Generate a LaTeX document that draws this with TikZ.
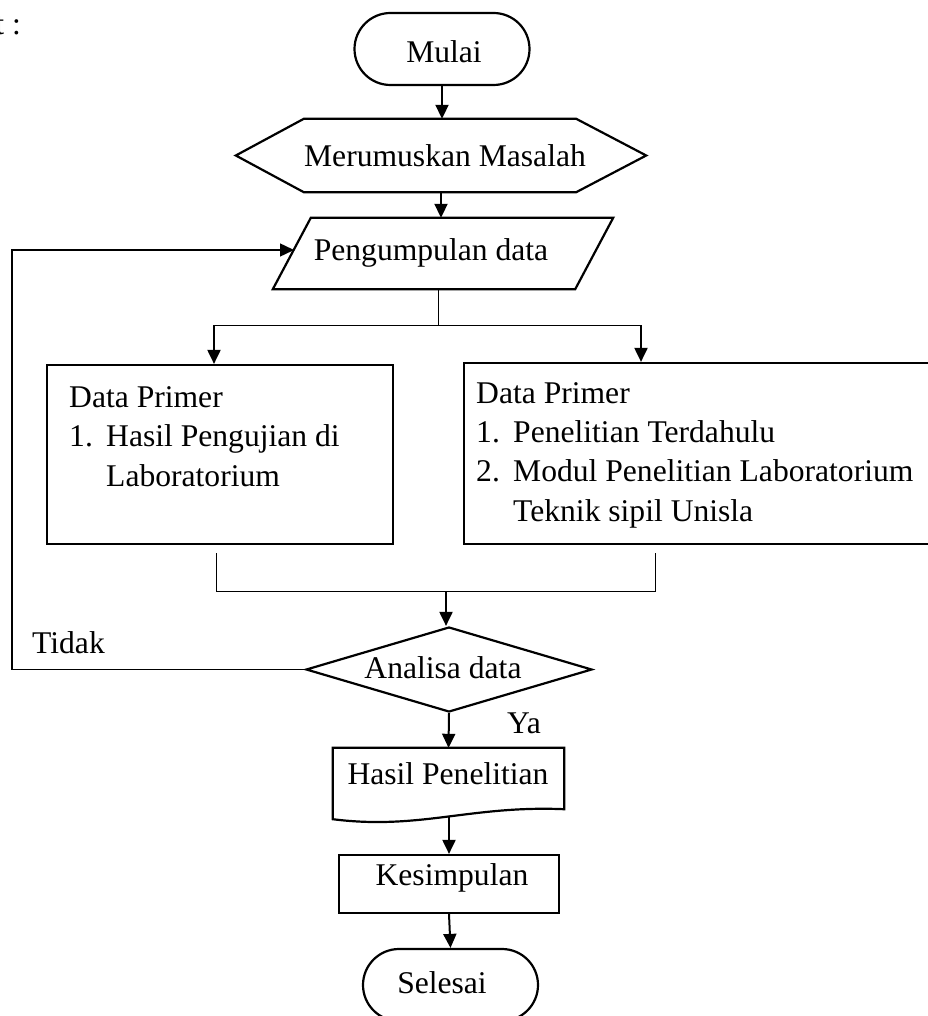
\documentclass[tikz,border=0pt]{standalone}
\usepackage{fontspec}
\setmainfont{Liberation Serif}
\usetikzlibrary{shapes.misc,shapes.geometric,arrows.meta,calc}
\begin{document}
\begin{tikzpicture}[x=1pt,y=-1pt,
  shapeline/.style={draw=black, line width=2.2pt, line join=miter},
  boxnode/.style={shapeline, rectangle, inner sep=0pt},
  ghost/.style={rectangle, inner sep=0pt, draw=none},
  term/.style={shapeline, rounded rectangle, inner sep=0pt, minimum width=175pt, minimum height=72pt},
  txt/.style={inner sep=0pt, anchor=base, font=\fontsize{31.6pt}{38pt}\selectfont},
  txtl/.style={txt, anchor=base west},
  arr/.style={line width=2pt, -{Triangle[length=14pt,width=13pt]}},
  thinline/.style={line width=1pt},
  loopline/.style={line width=1.4pt, -{Triangle[length=14pt,width=13pt]}}
]
\useasboundingbox (0,0) rectangle (927,1016);

% top-left fragment
\node[txt, anchor=base east] (tcolon) at (21,35) {t :};

% Mulai
\node[term] (mulai) at (442,49) {};
\node[txt] (tmulai) at (444,63) {Mulai};

% Merumuskan Masalah (hexagon)
\node[ghost, minimum width=410pt, minimum height=73pt] (rumus) at (441,155.5) {};
\draw[shapeline] (rumus.west) -- ([xshift=68pt]rumus.north west) -- ([xshift=-70pt]rumus.north east)
  -- (rumus.east) -- ([xshift=-70pt]rumus.south east) -- ([xshift=68pt]rumus.south west) -- cycle;
\node[txt] (trumus) at (445,167) {Merumuskan Masalah};

% Pengumpulan data (parallelogram)
\node[ghost, minimum width=340pt, minimum height=71pt] (kumpul) at (443,253.5) {};
\draw[shapeline] (kumpul.south west) -- ([xshift=38pt]kumpul.north west) -- (kumpul.north east)
  -- ([xshift=-38pt]kumpul.south east) -- cycle;
\node[txt] (tkumpul) at (431,260) {Pengumpulan data};

% Left box
\node[boxnode, minimum width=346pt, minimum height=179pt] (kiri) at (220,454.5) {};
\node[txtl] (k1) at (69,407) {Data Primer};
\node[txtl] (k2) at (69,446) {1.};
\node[txtl] (k3) at (106,446) {Hasil Pengujian di};
\node[txtl] (k4) at (106,486) {Laboratorium};

% Right box (runs past the right edge)
\node[boxnode, minimum width=476pt, minimum height=181pt] (kanan) at (702,453.5) {};
\node[txtl] (r1) at (476,403) {Data Primer};
\node[txtl] (r2) at (476,442) {1.};
\node[txtl] (r3) at (513,442) {Penelitian Terdahulu};
\node[txtl] (r4) at (476,481) {2.};
\node[txtl] (r5) at (513,481) {Modul Penelitian Laboratorium};
\node[txtl] (r6) at (513,521) {Teknik sipil Unisla};

% Analisa data (diamond)
\node[shapeline, diamond, inner sep=0pt, minimum width=286pt, minimum height=85pt] (analisa) at (449,669.5) {};
\node[txt] (tanalisa) at (443,678) {Analisa data};

% Hasil Penelitian (document)
\node[ghost, minimum width=231pt, minimum height=71pt] (hasil) at (448.5,783.5) {};
\draw[shapeline] (hasil.south west) -- (hasil.north west) -- (hasil.north east)
  -- ($(hasil.south east)+(0,-10)$)
  .. controls ($(hasil.south east)+(-94,-14)$) and ($(hasil.south west)+(87,11)$) .. (hasil.south west) -- cycle;
\node[txt] (thasil) at (448,784) {Hasil Penelitian};
\coordinate (hb) at (449,816);

% Kesimpulan
\node[boxnode, minimum width=220pt, minimum height=58pt] (simpul) at (449,884) {};
\node[txt] (tsimpul) at (452,885) {Kesimpulan};

% Selesai
\node[term] (selesai) at (450.5,985) {};
\node[txt] (tselesai) at (442,993) {Selesai};

% labels
\node[txtl] (tidak) at (32,653) {Tidak};
\node[txtl] (ya) at (507,733) {Ya};

% coordinates
\coordinate (split) at (438,325);
\coordinate (bL) at (214,325);
\coordinate (bR) at (641,325);
\coordinate (mL) at (216,591);
\coordinate (mR) at (655,591);
\coordinate (mid) at (446,591);
\coordinate (loopx) at (12,250);
\coordinate (kin) at (294,250);

% connectors
\draw[arr] (mulai.south) -- (mulai.south |- rumus.north);
\draw[arr] (rumus.south) -- (rumus.south |- kumpul.north);
\draw[thinline] (kumpul.south -| split) -- (split);
\draw[thinline] (bL) -- (bR);
\draw[arr] (bL) -- (bL |- kiri.north);
\draw[arr] (bR) -- (bR |- kanan.north);
\draw[thinline] ($(kiri.south -| mL)+(0,8)$) -- (mL) -- (mR) -- ($(kanan.south -| mR)+(0,8)$);
\draw[arr] (mid) -- (mid |- analisa.north);
\draw[loopline] (analisa.west) -| (loopx) |- (kin);
\draw[arr] (analisa.south) -- (hasil.north);
\draw[arr] (hb) -- (hb |- simpul.north);
\draw[arr] (simpul.south) -- (selesai.north);
\end{tikzpicture}
\end{document}
